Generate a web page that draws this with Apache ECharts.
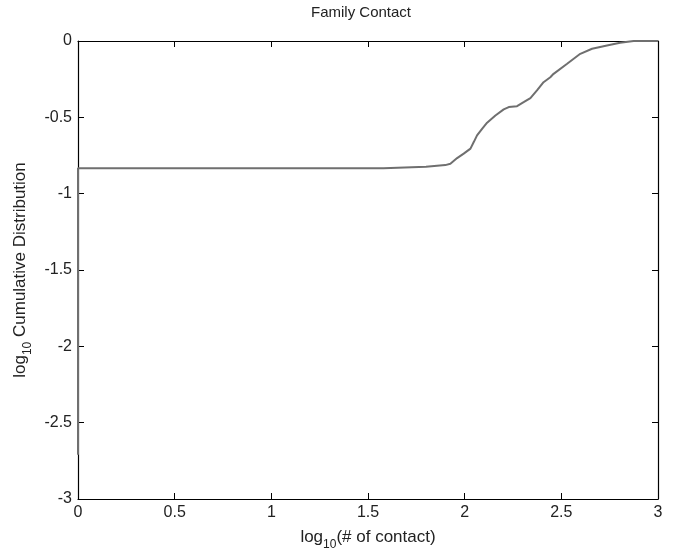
<!DOCTYPE html>
<html>
<head>
<meta charset="utf-8">
<script src="https://cdn.jsdelivr.net/npm/echarts@6/dist/echarts.min.js"></script>
<style>
  html, body { margin: 0; padding: 0; background: #fff; }
  #chart { width: 674px; height: 550px; }
</style>
</head>
<body>
<div id="chart"></div>
<script>
// log10(# of contact) vs log10 cumulative distribution
const logContact = [0, 0, 1.58, 1.8, 1.9, 1.926, 1.961, 1.995, 2.03, 2.047, 2.064, 2.09, 2.116, 2.159, 2.202, 2.228, 2.271, 2.305, 2.34, 2.374, 2.408, 2.443, 2.46, 2.53, 2.598, 2.659, 2.736, 2.804, 2.874, 3.0]
const logCumDist = [-2.71, -0.833, -0.833, -0.823, -0.813, -0.804, -0.767, -0.738, -0.705, -0.662, -0.618, -0.575, -0.535, -0.488, -0.448, -0.433, -0.427, -0.401, -0.374, -0.324, -0.27, -0.237, -0.215, -0.149, -0.084, -0.051, -0.029, -0.012, 0.0, 0.0]

const font = 'Liberation Sans, Arial, sans-serif'
const axisLine = { show: true, onZero: false, lineStyle: { color: '#000', width: 1.2 } }
const tick = { show: true, inside: true, length: 6, lineStyle: { color: '#000' } }
const nameRich = {
  a: { fontFamily: font, fontSize: 17, color: '#222', lineHeight: 22, verticalAlign: 'top' },
  s: { fontFamily: font, fontSize: 12, color: '#222', lineHeight: 22, verticalAlign: 'bottom', padding: [9, 0, 0, 0] }
}

let chart = echarts.init(document.getElementById('chart'), null, { renderer: 'canvas' })

chart.setOption({
  animation: false,
  backgroundColor: '#fff',
  title: {
    text: 'Family Contact',
    left: 306,
    top: 0,
    textStyle: { fontFamily: font, fontSize: 15, fontWeight: 'normal', color: '#222' }
  },
  grid: { left: 78, right: 16, top: 41, bottom: 51, outerBoundsMode: 'none', containLabel: false },
  xAxis: [{
    type: 'value', min: 0, max: 3, interval: 0.5,
    axisLine: axisLine, axisTick: tick, splitLine: { show: false },
    axisLabel: { fontFamily: font, fontSize: 16, color: '#222', margin: 6 },
    name: '{a|log}{s|10}{a|(# of contact)}',
    nameLocation: 'middle', nameGap: 30,
    nameTextStyle: { rich: nameRich }
  }, {
    type: 'value', min: 0, max: 3, interval: 0.5, position: 'top',
    axisLine: axisLine, axisTick: tick, axisLabel: { show: false }, splitLine: { show: false }
  }],
  yAxis: [{
    type: 'value', min: -3, max: 0, interval: 0.5,
    axisLine: axisLine, axisTick: tick, splitLine: { show: false },
    axisLabel: { fontFamily: font, fontSize: 16, color: '#222', margin: 6 },
    name: '{a|log}{s|10}{a| Cumulative Distribution}',
    nameLocation: 'middle', nameGap: 44, nameRotate: 90,
    nameTextStyle: { rich: nameRich }
  }, {
    type: 'value', min: -3, max: 0, interval: 0.5, position: 'right',
    axisLine: axisLine, axisTick: tick, axisLabel: { show: false }, splitLine: { show: false }
  }],
  series: [{
    type: 'line',
    data: logContact.map((x, i) => [x, logCumDist[i]]),
    showSymbol: false,
    lineStyle: { color: '#6f6f6f', width: 2 },
    z: 1
  }]
})
</script>
</body>
</html>
